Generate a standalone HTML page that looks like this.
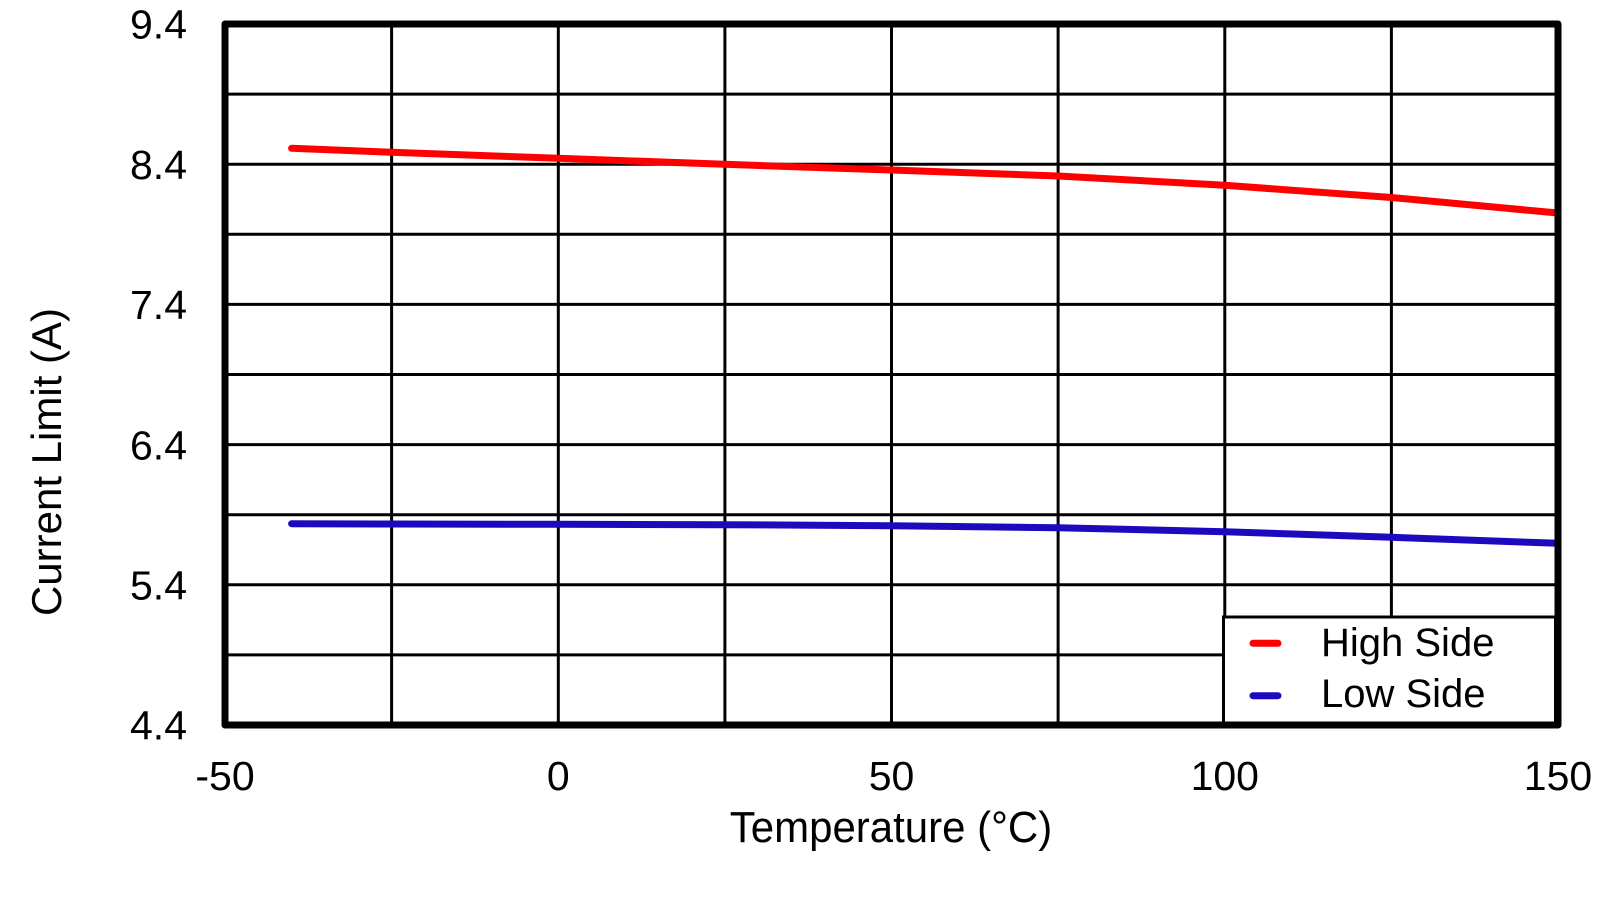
<!DOCTYPE html>
<html>
<head>
<meta charset="utf-8">
<style>
html,body{margin:0;padding:0;background:#fff;}
svg{display:block;}
text{font-family:"Liberation Sans",Arial,sans-serif;fill:#000;}
</style>
</head>
<body>
<svg width="1603" height="902" viewBox="0 0 1603 902" xmlns="http://www.w3.org/2000/svg">
<rect x="0" y="0" width="1603" height="902" fill="#fff"/>
<!-- grid -->
<g stroke="#000" stroke-width="3">
<line x1="391.6" y1="24" x2="391.6" y2="725"/>
<line x1="558.3" y1="24" x2="558.3" y2="725"/>
<line x1="724.9" y1="24" x2="724.9" y2="725"/>
<line x1="891.5" y1="24" x2="891.5" y2="725"/>
<line x1="1058.1" y1="24" x2="1058.1" y2="725"/>
<line x1="1224.8" y1="24" x2="1224.8" y2="725"/>
<line x1="1391.4" y1="24" x2="1391.4" y2="725"/>
<line x1="225" y1="94.1" x2="1558" y2="94.1"/>
<line x1="225" y1="164.2" x2="1558" y2="164.2"/>
<line x1="225" y1="234.3" x2="1558" y2="234.3"/>
<line x1="225" y1="304.4" x2="1558" y2="304.4"/>
<line x1="225" y1="374.5" x2="1558" y2="374.5"/>
<line x1="225" y1="444.6" x2="1558" y2="444.6"/>
<line x1="225" y1="514.7" x2="1558" y2="514.7"/>
<line x1="225" y1="584.8" x2="1558" y2="584.8"/>
<line x1="225" y1="654.9" x2="1558" y2="654.9"/>
</g>
<!-- series -->
<polyline fill="none" stroke="#ff0000" stroke-width="7" stroke-linecap="round" stroke-linejoin="round"
 points="291.6,148.3 391.6,152.3 558.3,158.3 724.9,164.3 891.5,170 1058.1,176 1224.8,185.3 1391.4,197.5 1558,213"/>
<polyline fill="none" stroke="#1e0abe" stroke-width="7" stroke-linecap="round" stroke-linejoin="round"
 points="291.6,523.7 391.6,524 558.3,524.3 724.9,524.7 891.5,525.7 1058.1,527.7 1224.8,531.7 1391.4,537.3 1558,543.3"/>
<!-- legend -->
<rect x="1223.5" y="617" width="332" height="108" fill="#fff" stroke="#000" stroke-width="3"/>
<line x1="1253" y1="643.3" x2="1278" y2="643.3" stroke="#ff0000" stroke-width="7" stroke-linecap="round"/>
<line x1="1253" y1="695.7" x2="1278" y2="695.7" stroke="#1e0abe" stroke-width="7" stroke-linecap="round"/>
<text x="1321" y="656" font-size="40">High Side</text>
<text x="1321" y="707" font-size="40">Low Side</text>
<!-- frame -->
<rect x="225" y="24" width="1333" height="701" fill="none" stroke="#000" stroke-width="7" stroke-linejoin="round"/>
<!-- y ticks -->
<g font-size="41" text-anchor="end">
<text x="187" y="38.7">9.4</text>
<text x="187" y="178.9">8.4</text>
<text x="187" y="319.1">7.4</text>
<text x="187" y="459.3">6.4</text>
<text x="187" y="599.5">5.4</text>
<text x="187" y="739.7">4.4</text>
</g>
<!-- x ticks -->
<g font-size="41" text-anchor="middle">
<text x="225" y="790">-50</text>
<text x="558.3" y="790">0</text>
<text x="891.5" y="790">50</text>
<text x="1224.8" y="790">100</text>
<text x="1558" y="790">150</text>
</g>
<!-- axis titles -->
<text x="891" y="842" font-size="42" text-anchor="middle" transform="translate(891 842) scale(1.0 1.04) translate(-891 -842)">Temperature (°C)</text>
<text x="0" y="0" font-size="42" text-anchor="middle" transform="translate(61 462) rotate(-90)">Current Limit (A)</text>
</svg>
</body>
</html>
